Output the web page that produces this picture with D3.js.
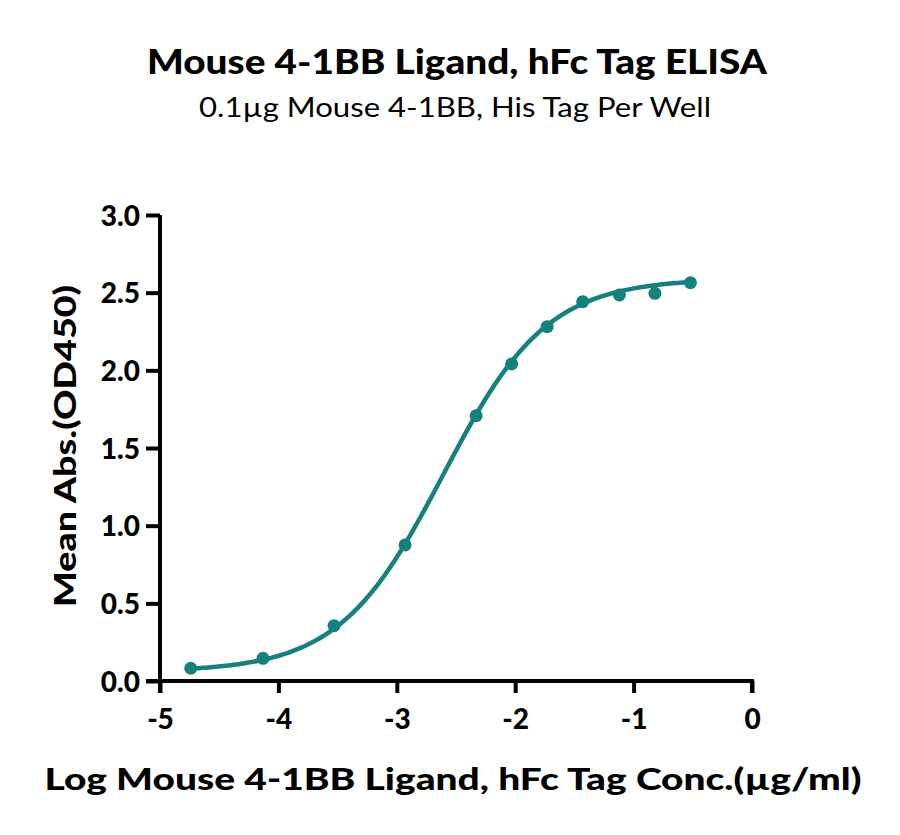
<!DOCTYPE html>
<meta charset="utf-8">
<head>
  <title>Mouse 4-1BB Ligand, hFc Tag ELISA</title>
</head>

<style>
body { margin: 0; background: #fff; }
text {
  font-family: Lato, "Noto Sans", sans-serif;
  fill: #000;
}
.tick text { font-size: 28px; font-weight: 900; }
</style>

<body>
  <svg width="900" height="835"></svg>

  <script src="https://cdnjs.cloudflare.com/ajax/libs/d3/7.8.5/d3.min.js"></script>
  <script>

// log10 concentration (µg/ml) and mean OD450
var logConc = [-4.74, -4.13, -3.53, -2.93, -2.33, -2.03, -1.73, -1.43, -1.12, -0.82, -0.52];
var meanAbs = [0.082, 0.146, 0.356, 0.876, 1.708, 2.041, 2.281, 2.442, 2.485, 2.496, 2.564];

var xTicks = [-5, -4, -3, -2, -1, 0];
var yTicks = [0, 0.5, 1.0, 1.5, 2.0, 2.5, 3.0];

// four-parameter logistic fit
var fitBottom = 0.06, fitTop = 2.59, fitLogEC50 = -2.61, fitHill = 0.99;

var teal = '#16807f';

var svg = d3.select('svg');

var x = d3.scaleLinear().domain([-5, 0]).range([160, 752]);
var y = d3.scaleLinear().domain([0, 3]).range([681, 215]);

// axes (plain hyphen for negatives, like the original)
var xAxis = svg.append('g')
  .attr('transform', 'translate(0,681)')
  .call(d3.axisBottom(x).tickValues(xTicks).tickSize(12).tickPadding(16)
    .tickFormat(function(d) { return String(d); }));

var yAxis = svg.append('g')
  .attr('transform', 'translate(160,0)')
  .call(d3.axisLeft(y).tickValues(yTicks).tickSize(14).tickPadding(6).tickFormat(d3.format('.1f')));

[xAxis, yAxis].forEach(function(a) {
  a.select('.domain').attr('stroke', '#000').attr('stroke-width', 4);
  a.selectAll('.tick line').attr('stroke', '#000').attr('stroke-width', 4);
});
// y axis runs down past the x axis, x axis starts at the 0.0 tick
yAxis.select('.domain').attr('d', 'M0,' + y(3) + 'V' + 693);
xAxis.select('.domain').attr('d', 'M' + (160 - 14) + ',0H' + x(0) + 'V12');
xAxis.selectAll('.tick text').attr('dy', '0.71em');
yAxis.selectAll('.tick text').attr('dy', '0.36em');

// fitted curve
function fourPL(lx) {
  return fitBottom + (fitTop - fitBottom) / (1 + Math.pow(10, (fitLogEC50 - lx) * fitHill));
}
var curveX = d3.range(200).map(function(i) {
  return logConc[0] + (logConc[logConc.length - 1] - logConc[0]) * i / 199;
});
svg.append('path')
  .datum(curveX)
  .attr('fill', 'none')
  .attr('stroke', teal)
  .attr('stroke-width', 4.5)
  .attr('d', d3.line()
    .x(function(d) { return x(d); })
    .y(function(d) { return y(fourPL(d)); }));

// points
svg.selectAll('circle.pt')
  .data(logConc)
  .enter()
  .append('circle')
  .attr('class', 'pt')
  .attr('cx', function(d) { return x(d); })
  .attr('cy', function(d, i) { return y(meanAbs[i]); })
  .attr('r', 6.5)
  .attr('fill', teal);

// titles
svg.append('text')
  .attr('x', 457).attr('y', 74)
  .attr('text-anchor', 'middle')
  .attr('font-size', 34).attr('font-weight', 900)
  .attr('textLength', 620).attr('lengthAdjust', 'spacingAndGlyphs')
  .text('Mouse 4-1BB Ligand, hFc Tag ELISA');

svg.append('text')
  .attr('x', 455).attr('y', 117)
  .attr('text-anchor', 'middle')
  .attr('font-size', 27)
  .attr('textLength', 512).attr('lengthAdjust', 'spacingAndGlyphs')
  .text('0.1µg Mouse 4-1BB, His Tag Per Well');

svg.append('text')
  .attr('transform', 'translate(76,446) rotate(-90)')
  .attr('text-anchor', 'middle')
  .attr('font-size', 31).attr('font-weight', 900)
  .attr('textLength', 322).attr('lengthAdjust', 'spacingAndGlyphs')
  .text('Mean Abs.(OD450)');

svg.append('text')
  .attr('x', 453).attr('y', 790)
  .attr('text-anchor', 'middle')
  .attr('font-size', 31).attr('font-weight', 900)
  .attr('textLength', 817).attr('lengthAdjust', 'spacingAndGlyphs')
  .text('Log Mouse 4-1BB Ligand, hFc Tag Conc.(µg/ml)');

  </script>
</body>
</html>
